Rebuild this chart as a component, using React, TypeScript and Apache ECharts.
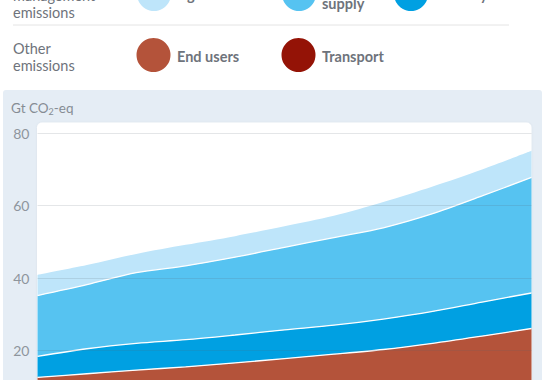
import React, { useEffect, useRef } from "react";
import * as echarts from "echarts";

const years = ["2010", "2014", "2018", "2022", "2026", "2030", "2034", "2038", "2042", "2046", "2050"];
const transport = [7.0, 7.3, 7.6, 7.9, 8.2, 8.5, 8.8, 9.1, 9.5, 9.9, 10.4];
const endUsers = [5.6, 6.3, 7.0, 7.6, 8.4, 9.3, 10.2, 11.2, 12.5, 14.1, 15.7];
const industry = [5.8, 6.9, 7.4, 7.5, 7.7, 7.9, 8.0, 8.4, 8.8, 9.4, 9.8];
const energySupply = [16.8, 17.7, 19.5, 20.4, 21.5, 22.8, 24.2, 25.2, 27.0, 29.3, 31.9];
const agriculture = [5.7, 5.4, 5.2, 5.8, 5.8, 5.8, 6.0, 7.1, 7.5, 7.3, 7.4];
const yTicks = { min: 0, max: 80, interval: 20 };

const C = {
  agriculture: "#bee5fa",
  energy: "#56c3f1",
  industry: "#00a0e2",
  endUsers: "#b4533a",
  transport: "#941306",
};

const FONT = "Lato, 'Noto Sans', sans-serif";
const LABEL = "#6e737b";

export default function App() {
  const ref = useRef<HTMLDivElement>(null);
  useEffect(() => {
    if (!ref.current) return;
    const chart = echarts.init(ref.current, undefined, { renderer: "svg" });
    const mk = (name: string, data: number[], color: string, z: number, line = true) => ({
      name,
      type: "line",
      stack: "total",
      data,
      smooth: 0.3,
      symbol: "none",
      z,
      lineStyle: line ? { color: "#ffffff", width: 1.3 } : { width: 0, opacity: 0 },
      areaStyle: { color, opacity: 1 },
      itemStyle: { color },
    });
    const circle = (cx: number, cy: number, color: string) => ({
      type: "circle",
      shape: { cx, cy, r: 17 },
      style: { fill: color },
    });
    const txt = (x: number, y: number, text: string, weight = 700, lh = 17) => ({
      type: "text",
      x,
      y,
      style: {
        text,
        fill: LABEL,
        font: `${weight} 14.5px ${FONT}`,
        lineHeight: lh,
        verticalAlign: "middle",
        align: "left",
      },
    });
    chart.setOption({
      animation: false,
      grid: { left: 37.5, right: 16.5, top: 133.3, bottom: 4.7, containLabel: false },
      xAxis: {
        type: "category",
        data: years,
        boundaryGap: false,
        show: false,
      },
      yAxis: {
        type: "value",
        min: yTicks.min,
        max: yTicks.max,
        interval: yTicks.interval,
        z: 30,
        axisLine: { show: false },
        axisTick: { show: false },
        axisLabel: { color: "#8e959d", fontSize: 14, fontFamily: FONT, margin: 8 },
        splitLine: { lineStyle: { color: "rgba(90,100,115,0.16)", width: 1 } },
      },
      graphic: [
        { type: "rect", shape: { x: 3, y: 90, width: 539, height: 360, r: 3 }, style: { fill: "#e5edf5" }, z: -10 },
        {
          type: "rect",
          shape: { x: 37, y: 122.5, width: 494.5, height: 340, r: 5 },
          style: { fill: "#ffffff", shadowBlur: 2, shadowColor: "rgba(0,0,0,0.06)" },
          z: -9,
        },
        {
          type: "text",
          x: 11,
          y: 108,
          style: {
            text: "Gt CO{sub|2}-eq",
            fill: "#858c94",
            font: `400 13.5px ${FONT}`,
            verticalAlign: "middle",
            rich: { sub: { fontSize: 9, verticalAlign: "bottom", padding: [6, 0, 0, 0], fill: "#858c94", fontFamily: FONT } },
          },
        },
        { type: "line", shape: { x1: 13, y1: 25, x2: 509, y2: 25 }, style: { stroke: "#e4e4e4", lineWidth: 1 } },
        txt(13, 4, "management\nemissions", 400),
        circle(154, -6, C.agriculture),
        txt(177, -6, "Agriculture"),
        circle(299, -6, C.energy),
        txt(322, -5.5, "Energy\nsupply"),
        circle(411, -6, C.industry),
        txt(434, -6, "Industry"),
        txt(13, 56.5, "Other\nemissions", 400),
        circle(153.5, 55, C.endUsers),
        txt(177, 56, "End users"),
        circle(298.5, 55, C.transport),
        txt(322, 56, "Transport"),
      ],
      series: [
        mk("Transport", transport, C.transport, 10),
        mk("End users", endUsers, C.endUsers, 9),
        mk("Industry", industry, C.industry, 8),
        mk("Energy supply", energySupply, C.energy, 7),
        mk("Agriculture", agriculture, C.agriculture, 6, false),
      ],
    });
    return () => chart.dispose();
  }, []);
  return (
    <div
      ref={ref}
      style={{ position: "fixed", left: 0, top: 0, width: 548, height: 430, background: "#ffffff" }}
    />
  );
}
